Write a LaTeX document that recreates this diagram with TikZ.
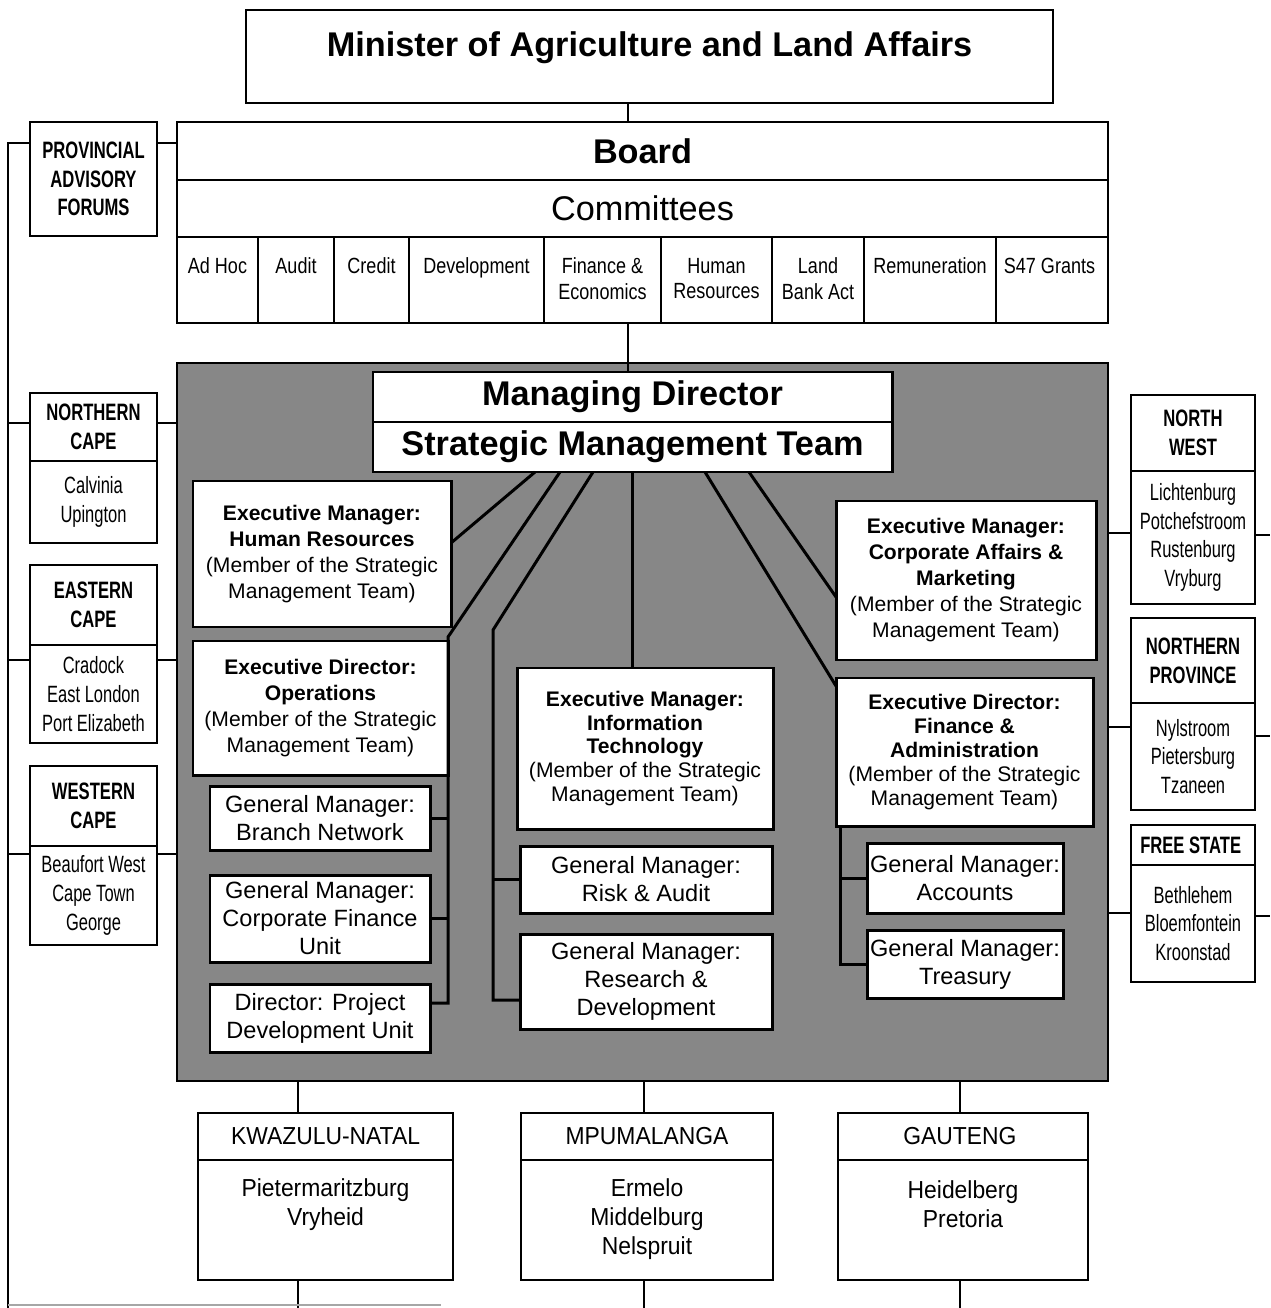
\documentclass[tikz,border=0pt]{standalone}
\usepackage{fontspec}
\setmainfont{Liberation Sans}
\newfontfamily\narrowfont[FakeStretch=0.82]{Liberation Sans}
\newfontfamily\condfont[FakeStretch=0.70]{Liberation Sans}
\newfontfamily\regionfont[FakeStretch=0.93]{Liberation Sans}
\usetikzlibrary{positioning,calc}

\newcommand{\smtmember}{(Member of the Strategic\\Management Team)}

\begin{document}
\begin{tikzpicture}[
        line width=1.1pt,
        box/.style={
            rectangle,
            draw,
            fill=white,
            inner sep=0pt,
            outer sep=0pt,
            align=center
        },
        banner/.style={box, font=\fontsize{19.5}{23}\selectfont\bfseries},
        cell/.style={box, minimum height=1.72cm},
        celltext/.style={inner sep=0pt, align=center, font=\narrowfont\fontsize{12.5}{14.7}\selectfont},
        provhead/.style={box, font=\condfont\fontsize{13.5}{16.4}\selectfont\bfseries},
        provbody/.style={box, font=\condfont\fontsize{13.4}{16.3}\selectfont},
        regionhead/.style={box, minimum height=0.94cm, font=\regionfont\fontsize{14}{16.4}\selectfont},
        regionbody/.style={box, minimum height=2.4cm},
        regiontext/.style={inner sep=0pt, align=center, font=\regionfont\fontsize{14}{16.4}\selectfont},
        inner/.style={box, line width=1.7pt},
        exec/.style={inner, font=\fontsize{12}{14.8}\selectfont},
        gm/.style={inner, font=\fontsize{13.4}{15.9}\selectfont},
        link/.style={line width=1.7pt},
    ]

    \useasboundingbox (0,0) rectangle (25.4,-26.16);

    \coordinate (spine) at (12.56,0);
    \coordinate (trunk) at (0.16,0);
    \coordinate (edge) at (25.4,0);
    \coordinate (bottom) at (0,-26.16);
    \coordinate (paflink) at (0,-2.86);

    % shaded management block
    \node (core) [rectangle, draw, line width=1.6pt, fill=black!47, outer sep=0pt,
        minimum width=18.62cm, minimum height=14.36cm] at (12.85,-14.44) {};

    \node (minister) [banner, minimum width=16.14cm, minimum height=1.86cm, text depth=0.5cm] at (12.99,-1.13)
        {Minister of Agriculture and Land Affairs};
    \node (board) [banner, minimum width=18.62cm, minimum height=1.16cm] at (12.85,-3.02) {Board};
    \node (committees) [banner, font=\fontsize{19.5}{23}\selectfont, minimum width=18.62cm,
        minimum height=1.14cm, below=0pt of board] {Committees};

    \foreach \xa/\xb/\nm/\txt in {
        3.54/5.16/cadhoc/{Ad Hoc},
        5.16/6.68/caudit/{Audit},
        6.68/8.18/ccredit/{Credit},
        8.18/10.88/cdev/{Development},
        10.88/13.22/cfin/{Finance \&\\Economics},
        13.22/15.44/chr/{Human\\Resources},
        15.44/17.28/cland/{Land\\Bank Act},
        17.28/19.92/crem/{Remuneration},
        19.92/22.16/cgrant/{S47 Grants}
    }{
        \node (\nm) [cell, minimum width={(\xb-\xa)*1cm}, anchor=north] at ({(\xa+\xb)/2},-4.74) {};
        \node (\nm-t) [celltext, anchor=north] at ([yshift=-0.4cm]\nm.north) {\txt};
    }

    \node (paf) [provhead, minimum width=2.54cm, minimum height=2.28cm] at (1.87,-3.58)
        {PROVINCIAL\\ADVISORY\\FORUMS};

    % provinces on both sides: heading, then towns
    \foreach \nm/\x/\w/\yt/\hh/\head in {
        nc/1.87/2.54/-7.86/1.36/{NORTHERN\\CAPE},
        ec/1.87/2.54/-11.3/1.6/{EASTERN\\CAPE},
        wc/1.87/2.54/-15.32/1.6/{WESTERN\\CAPE},
        nw/23.86/2.48/-7.9/1.52/{NORTH\\WEST},
        np/23.86/2.48/-12.36/1.7/{NORTHERN\\PROVINCE},
        fs/23.86/2.48/-16.5/0.8/{FREE STATE}
    }{
        \node (\nm-h) [provhead, minimum width=\w cm, minimum height=\hh cm, anchor=north] at (\x,\yt) {\head};
    }
    \node (nc-b) [provbody, minimum width=2.54cm, minimum height=1.64cm, anchor=north] at (nc-h.south)
        {Calvinia\\Upington};
    \node (ec-b) [provbody, minimum width=2.54cm, minimum height=1.96cm, anchor=north] at (ec-h.south)
        {Cradock\\East London\\Port Elizabeth};
    \node (wc-b) [provbody, minimum width=2.54cm, minimum height=1.98cm, anchor=north] at (wc-h.south)
        {Beaufort West\\Cape Town\\George};
    \node (nw-b) [provbody, minimum width=2.48cm, minimum height=2.66cm, anchor=north] at (nw-h.south)
        {Lichtenburg\\Potchefstroom\\Rustenburg\\Vryburg};
    \node (np-b) [provbody, minimum width=2.48cm, minimum height=2.14cm, anchor=north] at (np-h.south)
        {Nylstroom\\Pietersburg\\Tzaneen};
    \node (fs-b) [provbody, minimum width=2.48cm, minimum height=2.34cm, anchor=north] at (fs-h.south)
        {Bethlehem\\Bloemfontein\\Kroonstad};

    % inside the shaded block
    \node (md) [inner, font=\fontsize{19.5}{23}\selectfont\bfseries, minimum width=10.38cm,
        minimum height=1.0cm] at (12.65,-7.94) {Managing Director};
    \node (smt) [inner, font=\fontsize{19.5}{23}\selectfont\bfseries, minimum width=10.38cm,
        minimum height=1.0cm, below=0pt of md] {Strategic Management Team};

    \node (hr) [exec, minimum width=5.16cm, minimum height=2.92cm] at (6.44,-11.08)
        {\textbf{Executive Manager:}\\\textbf{Human Resources}\\\smtmember};
    \node (ops) [exec, minimum width=5.1cm, minimum height=2.68cm] at (6.41,-14.16)
        {\textbf{Executive Director:}\\\textbf{Operations}\\\smtmember};
    \node (branch) [gm, minimum width=4.4cm, minimum height=1.28cm] at (6.4,-16.36)
        {General Manager:\\Branch Network};
    \node (corpfin) [gm, minimum width=4.4cm, minimum height=1.74cm] at (6.4,-18.37)
        {General Manager:\\Corporate Finance\\Unit};
    \node (project) [gm, minimum width=4.4cm, minimum height=1.36cm] at (6.4,-20.36)
        {Director: Project\\Development Unit};

    \node (it) [exec, font=\fontsize{12}{13.6}\selectfont, minimum width=5.12cm, minimum height=3.22cm] at (12.9,-14.97)
        {\textbf{Executive Manager:}\\\textbf{Information}\\\textbf{Technology}\\\smtmember};
    \node (risk) [gm, minimum width=5.04cm, minimum height=1.34cm] at (12.92,-17.59)
        {General Manager:\\Risk \& Audit};
    \node (rd) [gm, minimum width=5.04cm, minimum height=1.9cm] at (12.92,-19.63)
        {General Manager:\\Research \&\\Development};

    \node (corpaff) [exec, minimum width=5.2cm, minimum height=3.18cm] at (19.32,-11.61)
        {\textbf{Executive Manager:}\\\textbf{Corporate Affairs \&}\\\textbf{Marketing}\\\smtmember};
    \node (finance) [exec, font=\fontsize{12}{13.6}\selectfont, minimum width=5.14cm, minimum height=2.96cm] at (19.29,-15.04)
        {\textbf{Executive Director:}\\\textbf{Finance \&}\\\textbf{Administration}\\\smtmember};
    \node (accounts) [gm, minimum width=3.92cm, minimum height=1.4cm] at (19.3,-17.56)
        {General Manager:\\Accounts};
    \node (treasury) [gm, minimum width=3.92cm, minimum height=1.36cm] at (19.3,-19.28)
        {General Manager:\\Treasury};

    % regional offices below
    \foreach \nm/\x/\w/\lx/\head in {
        kzn/6.51/5.1/5.96/KWAZULU-NATAL,
        mpu/12.94/5.04/12.88/MPUMALANGA,
        gau/19.26/5.0/19.2/GAUTENG
    }{
        \node (\nm-h) [regionhead, minimum width=\w cm, anchor=north] at (\x,-22.26) {\head};
        \node (\nm-b) [regionbody, minimum width=\w cm, anchor=north] at (\nm-h.south) {};
        \coordinate (\nm-x) at (\lx,0);
        \draw (core.south -| \nm-x) -- (\nm-h.north -| \nm-x);
        \draw (\nm-b.south -| \nm-x) -- (\nm-x |- bottom);
    }
    \node (kzn-t) [regiontext, anchor=north] at ([yshift=-0.36cm]kzn-b.north) {Pietermaritzburg\\Vryheid};
    \node (mpu-t) [regiontext, anchor=north] at ([yshift=-0.36cm]mpu-b.north) {Ermelo\\Middelburg\\Nelspruit};
    \node (gau-t) [regiontext, anchor=north] at ([yshift=-0.4cm]gau-b.north) {Heidelberg\\Pretoria};

    % top of the chart
    \draw (minister.south -| spine) -- (board.north -| spine);
    \draw (cfin.south -| spine) -- (md.north -| spine);
    \draw (paf.east |- paflink) -- (board.west |- paflink);
    \draw (paf.west |- paflink) -- (trunk |- paflink) -- (trunk |- bottom);
    \coordinate (stub) at (8.82,-26.1);
    \draw[black!35, line width=0.8pt] (trunk |- stub) -- (stub);

    \foreach \nm/\cy in {nc/-8.46, ec/-13.2, wc/-17.08}{
        \coordinate (\nm-c) at (0,\cy);
        \draw (trunk |- \nm-c) -- (\nm-h.west |- \nm-c);
        \draw (\nm-h.east |- \nm-c) -- (core.west |- \nm-c);
    }
    \foreach \nm/\cl/\cr in {nw/-10.66/-10.7, np/-14.54/-14.72, fs/-18.26/-18.32}{
        \coordinate (\nm-l) at (0,\cl);
        \coordinate (\nm-r) at (0,\cr);
        \draw (core.east |- \nm-l) -- (\nm-h.west |- \nm-l);
        \draw (\nm-h.east |- \nm-r) -- (edge |- \nm-r);
    }

    % fan out of the strategic management team
    \coordinate (itbus) at (9.86,-12.6);
    \coordinate (finbus) at ([xshift=0.08cm]finance.south west);

    \draw[link] ([xshift=-1.95cm]smt.south) -- ([yshift=0.22cm]hr.east);
    \draw[link] ([xshift=-1.45cm]smt.south) -- ([yshift=0.08cm]ops.north east)
        -- ([yshift=0.3cm]project.east -| ops.east) -- ([yshift=0.3cm]project.east);
    \draw[link] (branch.east) -- (branch.east -| ops.east);
    \draw[link] (corpfin.east) -- (corpfin.east -| ops.east);

    \draw[link] ([xshift=-0.79cm]smt.south) -- (itbus) -- ([yshift=-0.37cm]rd.west -| itbus)
        -- ([yshift=-0.37cm]rd.west);
    \draw[link] (risk.west) -- (risk.west -| itbus);

    \draw[link] (smt.south) -- (smt.south |- it.north);

    \draw[link] ([xshift=1.45cm]smt.south) -- ([yshift=-0.16cm]finance.north west);
    \draw[link] (finbus) -- (finbus |- treasury.west) -- (treasury.west);
    \draw[link] (accounts.west) -- (accounts.west -| finbus);

    \draw[link] ([xshift=2.33cm]smt.south) -- ([yshift=-0.33cm]corpaff.west);

\end{tikzpicture}
\end{document}
